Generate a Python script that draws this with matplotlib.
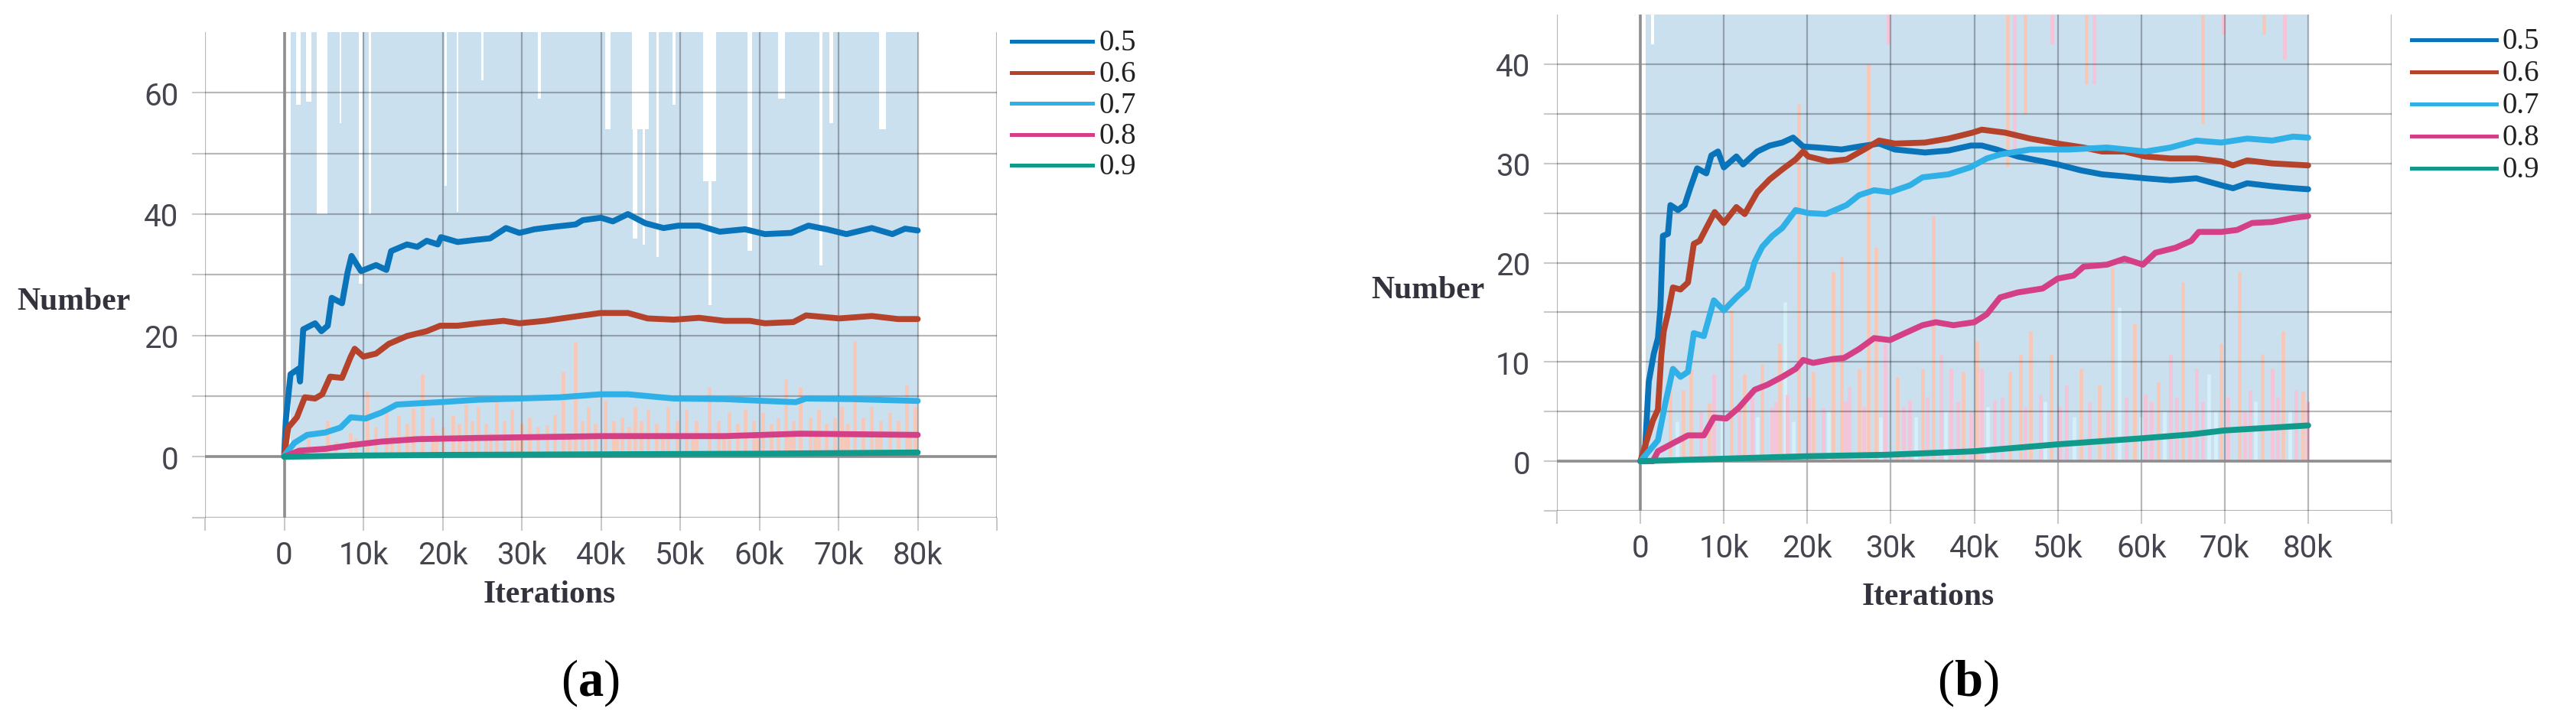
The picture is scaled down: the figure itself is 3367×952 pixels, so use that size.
import matplotlib
matplotlib.use("Agg")
import matplotlib.pyplot as plt
from matplotlib.lines import Line2D
import numpy as np

plt.rcParams['font.family'] = ['Roboto', 'DejaVu Sans']
plt.rcParams['mathtext.fontset'] = 'custom'
plt.rcParams['mathtext.rm'] = 'Liberation Serif'
plt.rcParams['mathtext.bf'] = 'Liberation Serif:bold'

W, H = 3367, 953

labels = ['0.5', '0.6', '0.7', '0.8', '0.9']
colors = ['#0a74bb', '#b5432c', '#2fb0e6', '#d43f86', '#0f9a8c']

# ---- panel (a) ----
a_x05 = [0, 200, 800, 1800, 2000, 2400, 3900, 4700, 5500, 6000, 7300, 8000, 8500, 9700, 11600, 12900,
         13500, 15500, 16800, 18000, 19400, 19800, 21900, 24500, 26000, 28000, 29700, 31600, 34000,
         36800, 37700, 40000, 41500, 43400, 45600, 47900, 49800, 52400, 55000, 58200, 60700, 64000,
         66200, 68500, 71000, 74200, 76800, 78400, 80000]
a_y05 = [0.5, 6, 13.6, 14.5, 12.4, 21, 22, 20.7, 21.6, 26.2, 25.3, 30.4, 33.1, 30.6, 31.6, 30.8,
         33.9, 35, 34.6, 35.6, 35, 36.2, 35.4, 35.8, 36, 37.7, 36.9, 37.5, 37.9,
         38.3, 39, 39.4, 38.8, 40, 38.5, 37.7, 38.1, 38.1, 37.1, 37.5, 36.7, 36.9,
         38.1, 37.5, 36.7, 37.7, 36.7, 37.6, 37.3]
a_x06 = [0, 500, 1600, 2600, 3900, 4800, 5800, 7300, 8400, 8900, 10000, 11600, 13200, 15500, 18000,
         19700, 21900, 24500, 27700, 29700, 32900, 36100, 40000, 43400, 45900, 49200, 52400, 55600,
         58800, 60700, 64300, 65900, 70100, 74200, 77500, 80000]
a_y06 = [0.2, 4.8, 6.5, 9.8, 9.6, 10.3, 13.2, 13, 16.5, 17.8, 16.5, 17, 18.6, 19.9, 20.7,
         21.6, 21.6, 22, 22.4, 22, 22.4, 23, 23.7, 23.7, 22.8, 22.6, 22.9, 22.4,
         22.4, 22, 22.2, 23.3, 22.8, 23.2, 22.7, 22.7]
a_x07 = [0, 1300, 2900, 5200, 7100, 8400, 10300, 12300, 14200, 16800, 19700, 24500, 29700, 34800,
         40000, 43400, 49200, 55600, 60700, 64600, 65900, 71700, 80000]
a_y07 = [0.2, 2.3, 3.6, 4, 4.8, 6.5, 6.3, 7.3, 8.6, 8.8, 9, 9.4, 9.6, 9.8,
         10.3, 10.3, 9.6, 9.5, 9.2, 9, 9.6, 9.5, 9.2]
a_x08 = [0, 1900, 5200, 8400, 12300, 16800, 24500, 40000, 55600, 65200, 80000]
a_y08 = [0, 1, 1.3, 1.9, 2.5, 2.9, 3.1, 3.4, 3.4, 3.8, 3.6]
a_x09 = [0, 10000, 20000, 40000, 60000, 80000]
a_y09 = [0, 0.2, 0.3, 0.4, 0.5, 0.7]

# raw-data haze: shaded span, white gaps (x0 k, x1 k, lower value), salmon spikes (x k, height)
a_shade = (0.8, 80.0)
a_gaps = [(1.5, 2.1, 58), (2.8, 3.4, 58.5), (4.1, 5.5, 40), (7.0, 7.2, 55), (9.4, 9.9, 28.5),
          (10.7, 11.0, 40), (20.2, 20.5, 44.6), (21.8, 22.0, 40.4), (24.9, 25.2, 62),
          (32.0, 32.4, 59), (40.5, 41.2, 54), (43.9, 46.0, 54), (44.0, 44.6, 36),
          (45.3, 45.6, 35), (47.0, 47.3, 33), (49.0, 49.4, 58), (52.9, 54.5, 45.4),
          (53.6, 54.0, 25), (58.5, 59.1, 34), (62.4, 63.2, 59), (67.6, 68.0, 31.5),
          (68.8, 69.3, 55), (75.1, 76.0, 54)]
a_spikes = [(5.5, 6), (8.4, 4), (10.5, 10.7), (11.5, 5), (12.9, 7.8), (14.4, 6.9), (15.5, 5.5),
            (16.3, 8), (17.4, 13.6), (18.7, 6.5), (20, 5), (21.3, 6.9), (22.1, 5.5), (22.9, 8.6),
            (23.7, 6), (24.5, 8.2), (25.5, 5.5), (26.8, 9.8), (27.8, 6), (28.7, 7.8), (30, 5.5),
            (31, 6.5), (32, 5), (33.2, 5.2), (34.2, 7), (35.2, 14), (36.8, 19), (37.6, 6),
            (38.4, 8.2), (39.3, 5.5), (40.5, 9.4), (41.6, 6), (42.7, 6.5), (43.5, 5), (44.3, 8.2),
            (45.1, 6), (45.9, 7.8), (47, 5.5), (48.5, 8.2), (49.6, 6), (50.8, 7.8), (52, 6),
            (53.7, 11.5), (54.8, 6), (56.2, 7.3), (57.2, 5.5), (58.2, 7.8), (59.3, 6), (60.4, 7.3),
            (61.5, 5.5), (62.4, 6.5), (63.3, 12.8), (64.3, 6), (65.2, 11.5), (66.4, 6.5),
            (67.5, 7.8), (68.5, 5.5), (69.5, 6.5), (70.4, 8.2), (71.2, 5.5), (72, 19.1),
            (73.1, 6.5), (74.2, 8.2), (75.3, 6), (76.5, 7.3), (77.5, 6), (78.6, 11.9), (79.7, 8.2)]
a_low = [(3.0, 3), (6.5, 2.5), (9.0, 3), (13.6, 3.5), (19.2, 4), (26.0, 4), (29.4, 3.5), (36.0, 4),
         (42.0, 3.5), (47.8, 4), (51.5, 3.5), (55.5, 4), (59.8, 3.5), (63.8, 4), (67.0, 3.5),
         (70.9, 4), (74.8, 3.5), (79.0, 4)]

# ---- panel (b) ----
b_x05 = [0, 500, 1000, 1600, 2100, 2400, 2700, 3300, 3600, 4500, 5300, 6000, 6800, 7900, 8500, 9300,
         10000, 11500, 12300, 14000, 15500, 17000, 18300, 19500, 21300, 24100, 26200, 28600, 30500,
         34100, 36900, 39600, 40900, 42700, 45200, 48200, 50000, 52800, 55300, 58000, 60500, 63500,
         66600, 69600, 71000, 72700, 75700, 78200, 80000]
b_y05 = [0, 0.3, 8, 10.8, 12.4, 15.5, 22.7, 22.9, 25.8, 25.3, 25.8, 27.6, 29.5, 29, 30.8, 31.2,
         29.6, 30.7, 29.9, 31.2, 31.8, 32.1, 32.6, 31.7, 31.6, 31.4, 31.7, 32, 31.4,
         31.1, 31.3, 31.8, 31.8, 31.4, 30.7, 30.2, 29.9, 29.3, 28.9, 28.7, 28.5, 28.3,
         28.5, 27.8, 27.5, 28, 27.7, 27.5, 27.4]
b_x06 = [0, 1500, 2100, 2500, 2800, 3300, 3900, 4800, 5700, 6400, 7100, 7900, 8900, 10000, 11500,
         12500, 14000, 15500, 17000, 18600, 19500, 20100, 22500, 24700, 26800, 28600, 30500, 34100,
         36900, 39800, 40900, 43700, 46700, 50000, 53100, 55300, 58000, 60500, 63500, 66600, 69600,
         71000, 72700, 75700, 80000]
b_y06 = [0, 4.1, 5.2, 10.6, 13.1, 14.9, 17.5, 17.3, 18, 21.9, 22.2, 23.5, 25.1, 24, 25.6,
         24.9, 27.1, 28.4, 29.4, 30.4, 31.2, 30.7, 30.2, 30.4, 31.4, 32.3, 32, 32.1,
         32.5, 33.1, 33.4, 33.1, 32.5, 32, 31.6, 31.2, 31.2, 30.7, 30.5, 30.5, 30.2,
         29.8, 30.3, 30, 29.8]
b_x07 = [0, 1500, 2100, 3000, 3900, 4800, 5700, 6400, 7600, 8800, 10000, 11500, 12800, 13700, 14600,
         15800, 17000, 18600, 20100, 22200, 24700, 26200, 28000, 29900, 32300, 33800, 36900, 39500,
         41500, 43100, 46700, 51300, 55900, 60500, 63500, 66600, 69600, 72700, 75700, 78200, 80000]
b_y07 = [0, 1.5, 2.1, 5.9, 9.3, 8.5, 9, 12.9, 12.6, 16.2, 15.2, 16.5, 17.5, 20.1, 21.6,
         22.7, 23.5, 25.3, 25, 24.9, 25.8, 26.8, 27.3, 27.1, 27.8, 28.6, 28.9, 29.6,
         30.5, 30.9, 31.4, 31.4, 31.6, 31.2, 31.6, 32.3, 32.1, 32.5, 32.3, 32.7, 32.6]
b_x08 = [0, 1500, 2100, 4100, 5700, 7600, 8800, 10300, 11800, 13700, 15200, 17000, 18600, 19500,
         20700, 23100, 24400, 26200, 28000, 29900, 31700, 33800, 35400, 37500, 40000, 41500, 43100,
         45200, 48200, 50000, 51900, 53100, 55900, 58000, 60200, 61700, 64100, 66000, 66900, 69600,
         71500, 73300, 75700, 78200, 80000]
b_y08 = [0, 0, 1, 1.9, 2.6, 2.6, 4.4, 4.3, 5.4, 7.2, 7.7, 8.5, 9.3, 10.2,
         9.9, 10.3, 10.4, 11.3, 12.4, 12.2, 12.9, 13.7, 14, 13.7, 14, 14.8, 16.5,
         17, 17.4, 18.4, 18.7, 19.6, 19.8, 20.4, 19.8, 21, 21.5, 22.2, 23.1, 23.1,
         23.3, 24, 24.1, 24.5, 24.7]
b_x09 = [0, 10000, 20000, 29300, 40000, 50000, 60000, 66000, 70000, 80000]
b_y09 = [0, 0.25, 0.5, 0.64, 1.0, 1.7, 2.3, 2.7, 3.1, 3.6]

b_shade = (0.6, 80.0)
b_gaps = [(1.3, 1.6, 42)]
# (x k, height, kind) s = salmon, p = pink, c = pale cyan
b_spikes = [(3.6, 9.3, 's'), (5.1, 7.2, 's'), (6.0, 9.3, 's'), (8.2, 5.9, 's'), (8.8, 8.8, 'p'),
            (10.9, 15.2, 's'), (12.5, 8.8, 's'), (13.4, 6.4, 'p'), (14.6, 9.8, 's'), (15.8, 5.4, 'p'),
            (16.7, 11.9, 's'), (17.3, 16, 'c'), (17.6, 6.7, 'p'), (19.0, 36, 's'), (20.7, 9, 's'),
            (21.9, 5.4, 'p'), (23.1, 19.1, 's'), (24.1, 20.6, 's'), (25.0, 7.5, 'p'), (26.2, 9.3, 's'),
            (27.3, 40, 's'), (28.2, 21.6, 's'), (29.3, 11.9, 'p'), (30.8, 8.5, 's'), (32.3, 6.2, 'p'),
            (33.8, 9.3, 's'), (35.1, 24.7, 's'), (36.0, 10.8, 'p'), (37.2, 9.3, 'p'), (38.7, 9, 's'),
            (40.3, 12.1, 's'), (40.9, 9.3, 'p'), (42.4, 6.2, 'p'), (44.3, 9, 's'), (45.5, 10.8, 's'),
            (46.7, 13.1, 's'), (47.9, 6.7, 'p'), (49.2, 10.8, 's'), (51.0, 7.7, 'p'), (52.8, 9.3, 's'),
            (55.0, 7.7, 's'), (56.5, 19.6, 's'), (57.4, 15.5, 'c'), (59.2, 13.9, 's'), (60.5, 6.7, 'p'),
            (62.0, 8, 's'), (63.5, 10.8, 'p'), (65.0, 18, 's'), (66.6, 9.3, 'p'), (68.1, 8.8, 'c'),
            (69.6, 11.9, 's'), (71.8, 19.1, 's'), (73.0, 7.2, 'p'), (74.5, 10.8, 's'), (75.7, 9.3, 'p'),
            (77.0, 13.1, 's'), (78.5, 7.2, 'p'), (79.4, 7, 's')]
b_low = [(4.4, 4, 'c'), (7.2, 5, 'p'), (9.8, 4.5, 'c'), (11.8, 5.5, 'p'), (14.0, 4.5, 'c'),
         (16.2, 6, 'p'), (18.3, 4, 'c'), (20.2, 6.5, 'p'), (22.5, 5, 'c'), (24.6, 6, 'p'),
         (26.8, 5.5, 'p'), (28.8, 4.5, 'c'), (31.5, 5.5, 'p'), (33.0, 4.5, 'c'), (34.4, 6.5, 'p'),
         (36.6, 5, 'c'), (38.0, 6, 'p'), (39.6, 5, 'p'), (41.6, 5.5, 'c'), (43.3, 6.5, 'p'),
         (46.1, 5.5, 'p'), (48.5, 6, 'c'), (50.2, 5.5, 'p'), (52.0, 4.5, 'c'), (53.8, 6, 'p'),
         (56.0, 5, 'p'), (58.2, 6.5, 'p'), (59.9, 4.5, 'c'), (61.2, 6, 'p'), (62.8, 5, 'c'),
         (64.2, 6.5, 'p'), (65.8, 5, 'p'), (67.4, 6, 'p'), (68.9, 5, 'c'), (70.4, 6.5, 'p'),
         (72.4, 5, 'p'), (73.7, 6, 'c'), (76.3, 6.5, 'p'), (77.8, 5, 'c'), (79.9, 6, 'p')]
# spikes reaching the top of panel (b): (x k, lowest visible value)
b_tops = [(29.7, 42), (44.0, 29.7), (44.8, 31), (46.1, 35), (49.3, 42), (53.4, 38), (54.3, 38),
          (67.4, 34), (69.8, 43), (74.7, 43), (77.2, 40.5)]

haze = {'s': '#f7c8b8', 'p': '#f5c4d8', 'c': '#d6f0fa'}
shade_color = '#cbe0ef'
tick_color = '#c9c9c9'
text_color = '#45454f'
serif = 'Liberation Serif'


def draw_panel(ax, series, ylim, yticks, ylabels, shade, gaps, spikes, tops=()):
    top = ylim[1]
    ax.fill_between([shade[0] * 1000, shade[1] * 1000], 0, top, color=shade_color, lw=0, zorder=0.5)
    for x0, x1, low in gaps:
        ax.fill_between([x0 * 1000, x1 * 1000], low, top, color='white', lw=0, zorder=0.6)
    for s in spikes:
        kind = s[2] if len(s) > 2 else 's'
        ax.vlines(s[0] * 1000, 0, s[1], colors=haze[kind], lw=3.4, zorder=0.7)
    for i, (x, low) in enumerate(tops):
        ax.vlines(x * 1000, low, top, colors=haze['s' if i % 2 else 'p'], lw=3.4, zorder=0.7)

    for (xs, ys), c in zip(series, colors):
        ax.plot(xs, ys, color=c, lw=5.6, solid_joinstyle='round', solid_capstyle='round', zorder=3)

    ax.axhline(0, color='#8e8e8e', lw=2.6, zorder=2.7)
    ax.axvline(0, color='#8e8e8e', lw=2.6, zorder=2.7)

    xt = np.arange(-10000, 90001, 10000)
    ax.set_xticks(xt)
    ax.set_xticklabels(['' if (v < 0 or v > 80000) else ('0' if v == 0 else '%dk' % (v // 1000))
                        for v in xt])
    ax.set_yticks(yticks)
    ax.set_yticklabels(ylabels)
    ax.set_xlim(-10000, 90000)
    ax.set_ylim(*ylim)
    ax.set_axisbelow(False)
    ax.grid(True, color='black', alpha=0.28, lw=1.6)
    ax.tick_params(axis='both', length=12, width=1.5, color=tick_color, labelsize=29,
                   labelcolor=text_color)
    ax.tick_params(axis='x', pad=9)
    ax.tick_params(axis='y', pad=13)
    for sp in ax.spines.values():
        sp.set_visible(False)
    ax.patch.set_alpha(0)


fig = plt.figure(figsize=(W / 100, H / 100), dpi=100)

ax_a = fig.add_axes([268 / W, (H - 677.6) / H, 1035 / W, 634.6 / H])
draw_panel(ax_a,
           [(a_x05, a_y05), (a_x06, a_y06), (a_x07, a_y07), (a_x08, a_y08), (a_x09, a_y09)],
           (-10, 70), np.arange(-10, 61, 10), ['', '0', '', '20', '', '40', '', '60'],
           a_shade, a_gaps, a_spikes + a_low)

ax_b = fig.add_axes([2035 / W, (H - 669) / H, 1091 / W, 649 / H])
draw_panel(ax_b,
           [(b_x05, b_y05), (b_x06, b_y06), (b_x07, b_y07), (b_x08, b_y08), (b_x09, b_y09)],
           (-5, 45), np.arange(-5, 41, 5), ['', '0', '', '10', '', '20', '', '30', '', '40'],
           b_shade, b_gaps, b_spikes + b_low, b_tops)


def px(x, y):
    return x / W, 1 - y / H


# axis titles and panel letters
for (x, y), s in [((22, 395), 'Number'), ((1792, 380), 'Number')]:
    fig.text(*px(x, y), s, ha='left', va='center', family=serif, weight='bold', size=30,
             color='#33333d')
for (x, y) in [(718, 778), (2520, 781)]:
    fig.text(*px(x, y), 'Iterations', ha='center', va='center', family=serif, weight='bold',
             size=30, color='#33333d')
fig.text(*px(771, 910), r'($\mathbf{a}$)', ha='center', va='baseline', family=serif, size=48,
         color='black')
fig.text(*px(2572, 910), r'($\mathbf{b}$)', ha='center', va='baseline', family=serif, size=48,
         color='black')

# legends
for (lx0, lx1, tx, y0, step) in [(1322, 1428, 1437, 55, 40.5), (3152, 3263, 3270, 53, 42)]:
    for i, (lab, c) in enumerate(zip(labels, colors)):
        y = y0 + i * step
        fig.add_artist(Line2D([lx0 / W, lx1 / W], [1 - y / H, 1 - y / H], color=c, lw=3.6))
        fig.text(*px(tx, y + 2), lab, ha='left', va='center', family=serif, size=28, color='#222')

fig.savefig('out.png', dpi=100)
